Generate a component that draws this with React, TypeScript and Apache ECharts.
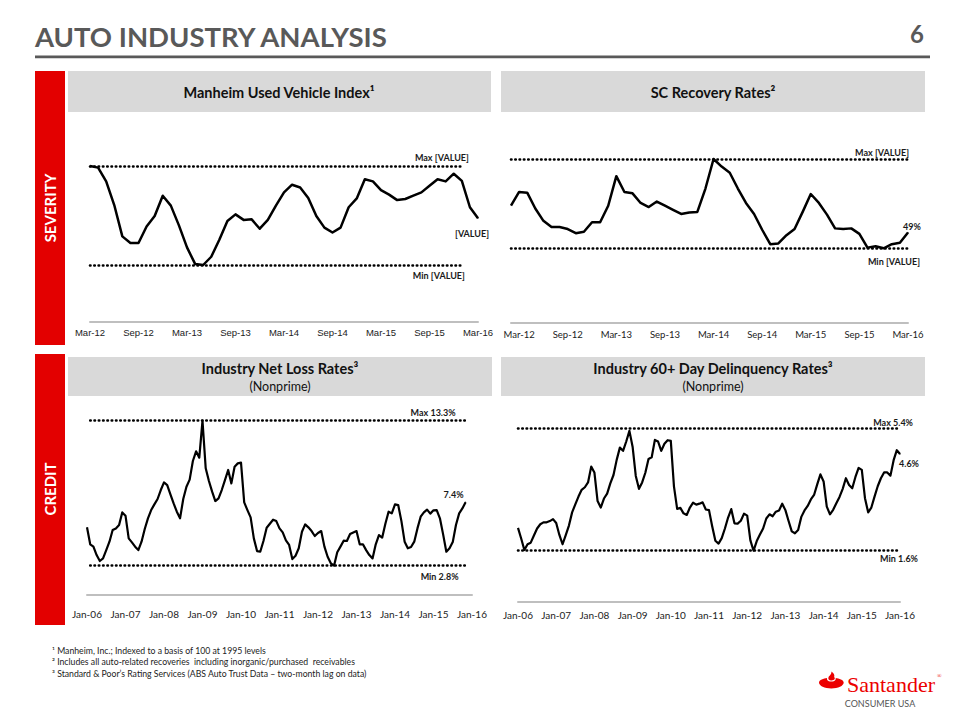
import React, { useEffect, useRef } from 'react';
import * as echarts from 'echarts';

// ---------- categories ----------
const MONTH_NAMES = ['Jan', 'Feb', 'Mar', 'Apr', 'May', 'Jun', 'Jul', 'Aug', 'Sep', 'Oct', 'Nov', 'Dec'];
function monthLabels(startYear: number, startMonth: number, count: number): string[] {
  const out: string[] = [];
  for (let i = 0; i < count; i++) {
    const t = startMonth + i;
    const y = startYear + Math.floor(t / 12);
    out.push(MONTH_NAMES[t % 12] + '-' + String(y % 100).padStart(2, '0'));
  }
  return out;
}
const manheimMonths = monthLabels(2012, 2, 49); // Mar-12 .. Mar-16
const recoveryMonths = monthLabels(2012, 1, 50); // Feb-12 .. Mar-16
const creditMonths = monthLabels(2006, 0, 121); // Jan-06 .. Jan-16

// ---------- tick labels ----------
const severityTicks = ['Mar-12', 'Sep-12', 'Mar-13', 'Sep-13', 'Mar-14', 'Sep-14', 'Mar-15', 'Sep-15', 'Mar-16'];
const creditTicks = ['Jan-06', 'Jan-07', 'Jan-08', 'Jan-09', 'Jan-10', 'Jan-11', 'Jan-12', 'Jan-13', 'Jan-14', 'Jan-15', 'Jan-16'];

// ---------- series values ----------
const manheimIndex = [
  125.0, 124.85, 123.6, 121.45, 118.6, 118.0, 118.0, 119.5, 120.45, 122.3,
  121.4, 119.6, 117.6, 116.1, 116.0, 116.75, 118.3, 120.0, 120.6, 120.1,
  120.15, 119.3, 120.1, 121.4, 122.6, 123.3, 123.05, 122.1, 120.45, 119.4,
  118.95, 119.4, 121.25, 122.05, 123.8, 123.6, 122.8, 122.4, 121.9, 122.0,
  122.3, 122.6, 123.2, 123.8, 123.6, 124.3, 123.65, 121.25, 120.25,
];
const scRecoveryRate = [
  53.2, 55.2, 55.1, 52.8, 51.0, 50.1, 50.1, 49.8, 49.2, 49.4,
  50.8, 50.8, 53.2, 57.5, 55.2, 55.0, 53.6, 53.0, 53.8, 53.2,
  52.6, 52.0, 52.2, 52.3, 55.7, 60.0, 58.9, 58.0, 55.7, 53.6,
  52.0, 49.7, 47.6, 47.7, 48.9, 49.8, 52.3, 54.9, 53.6, 51.9,
  49.9, 49.8, 49.9, 49.1, 47.1, 47.3, 47.0, 47.6, 47.8, 49.3,
];
const netLossRate = [
  5.58, 4.35, 4.18, 3.57, 3.14, 3.33, 3.93, 4.54, 5.38, 5.50,
  5.75, 6.66, 6.42, 4.78, 4.49, 4.18, 3.93, 4.54, 5.46, 6.23,
  6.83, 7.24, 7.63, 8.28, 8.83, 8.64, 7.97, 7.31, 6.71, 6.23,
  7.63, 8.52, 9.03, 10.38, 11.08, 10.62, 13.3, 9.85, 8.93, 8.16,
  7.48, 7.68, 8.28, 9.0, 9.73, 8.76, 9.97, 10.21, 10.26, 7.39,
  6.83, 6.3, 4.78, 3.86, 3.81, 4.59, 5.55, 5.84, 6.13, 6.03,
  5.50, 5.21, 4.63, 4.30, 3.28, 3.52, 4.06, 5.26, 5.79, 5.58,
  5.31, 4.95, 5.17, 5.31, 4.18, 3.45, 2.97, 2.8, 3.77, 4.18,
  4.61, 4.59, 5.09, 5.21, 5.31, 4.35, 4.35, 3.93, 3.57, 3.33,
  4.35, 5.02, 4.83, 5.84, 6.71, 6.59, 7.24, 7.19, 6.03, 4.54,
  4.06, 4.15, 4.54, 5.50, 6.35, 6.66, 6.86, 6.57, 6.81, 6.83,
  6.23, 5.07, 3.81, 4.06, 4.51, 5.75, 6.59, 6.95, 7.4,
];
const delinquencyRate = [
  2.31, 1.98, 1.62, 1.80, 1.85, 2.07, 2.29, 2.42, 2.48, 2.48,
  2.52, 2.58, 2.46, 2.09, 1.80, 2.08, 2.38, 2.79, 3.04, 3.28,
  3.49, 3.57, 3.72, 4.21, 4.03, 3.14, 2.94, 3.22, 3.37, 3.69,
  3.95, 4.42, 4.80, 4.70, 4.99, 5.32, 4.83, 3.92, 3.52, 3.72,
  4.02, 4.45, 4.50, 5.04, 4.99, 4.70, 4.92, 5.03, 5.01, 3.59,
  2.90, 2.93, 2.76, 2.71, 2.94, 3.09, 3.03, 3.06, 3.10, 2.88,
  2.86, 2.36, 1.91, 1.82, 1.99, 2.29, 2.63, 2.89, 2.45, 2.44,
  2.53, 2.75, 2.69, 1.92, 1.60, 1.90, 2.10, 2.29, 2.60, 2.73,
  2.67, 2.81, 2.85, 3.06, 2.86, 2.52, 2.20, 2.14, 2.24, 2.65,
  2.85, 2.99, 3.19, 3.33, 3.66, 3.97, 3.75, 2.97, 2.73, 2.87,
  3.07, 3.27, 3.52, 3.85, 3.64, 3.54, 3.89, 4.17, 4.11, 3.23,
  2.79, 2.94, 3.28, 3.60, 3.85, 4.03, 4.03, 3.93, 4.41, 4.72,
  4.6,
];

// reference levels (max, min) and their labels
const manheimLevels = [125.0, 116.0];
const recoveryLevels = [60.0, 47.0];
const netLossLevels = [13.3, 2.8];
const delinquencyLevels = [5.4, 1.6];
const manheimLevelLabels = ['Max [VALUE]', 'Min [VALUE]', '[VALUE]'];
const recoveryLevelLabels = ['Max [VALUE]', 'Min [VALUE]', '49%'];
const netLossLevelLabels = ['Max 13.3%', 'Min 2.8%', '7.4%'];
const delinquencyLevelLabels = ['Max 5.4%', 'Min 1.6%', '4.6%'];

// ---------- texts ----------
const pageTitle = 'AUTO INDUSTRY ANALYSIS';
const pageNumber = '6';
const panelTitles = ['Manheim Used Vehicle Index¹', 'SC Recovery Rates²', 'Industry Net Loss Rates³', 'Industry 60+ Day Delinquency Rates³'];
const panelSubtitle = '(Nonprime)';
const sideLabels = ['SEVERITY', 'CREDIT'];
const footnotes = [
  '¹ Manheim, Inc.; Indexed to a basis of 100 at 1995 levels',
  '² Includes all auto-related recoveries  including inorganic/purchased  receivables',
  '³ Standard & Poor’s Rating Services (ABS Auto Trust Data – two-month lag on data)',
];

const FLAME_PATH =
  'M0 13 C0 9.5 5 8 8.5 7.5 C8 9 8.8 11.6 13 11.8 C17.2 11.6 18 9 17.5 7.5 C21 8 26 9.5 26 13 C26 17 20 20 13 20 C6 20 0 17 0 13 Z ' +
  'M13 10.6 C10.2 10.6 9.4 8.6 10 6.8 C10.8 4.6 13.6 3.4 13 0 C15.6 1.6 16.6 4 16 6 C15.8 7 16.9 7.6 16.6 8.6 C16.1 10 14.8 10.6 13 10.6 Z';

let flameRegistered = false;
function ensureFlame() {
  if (flameRegistered) return;
  echarts.graphic.registerShape('santanderFlame', echarts.graphic.extendPath(FLAME_PATH, {}) as any);
  flameRegistered = true;
}

function yRange(vHi: number, yHi: number, vLo: number, yLo: number, top: number, bottom: number) {
  const k = (yLo - yHi) / (vHi - vLo);
  return { max: vHi + (yHi - top) / k, min: vLo - (bottom - yLo) / k };
}

type Panel = {
  cats: string[];
  ticks: string[];
  values: number[];
  levels: number[];
  labels: string[];
  left: number;
  width: number;
  top: number;
  bottom: number;
  hiY: number;
  loY: number;
  hiSpan: [number, number];
  loSpan: [number, number];
  hiDist: [number, number];
  loDist: [number, number];
  lastPos: string;
  lastDist: number;
  lastOffset: [number, number];
  axisFont: string;
  axisSize: number;
  axisMargin: number;
  lineWidth: number;
};

const annotFont = { fontFamily: 'Lato', fontWeight: 'bold' as const, fontSize: 9, color: '#1a1a1a' };

export default function App() {
  const ref = useRef<HTMLDivElement>(null);

  useEffect(() => {
    if (!ref.current) return;
    ensureFlame();
    const chart = echarts.init(ref.current, undefined, { renderer: 'svg' });

    const panels: Panel[] = [
      {
        cats: manheimMonths, ticks: severityTicks, values: manheimIndex, levels: manheimLevels, labels: manheimLevelLabels,
        left: 90, width: 388, top: 130, bottom: 322, hiY: 166, loY: 265,
        hiSpan: [0, 46], loSpan: [0, 46], hiDist: [-7, 4], loDist: [-3, 6],
        lastPos: 'bottom', lastDist: 10, lastOffset: [-6, 0],
        axisFont: 'Liberation Sans', axisSize: 9.5, axisMargin: 5, lineWidth: 2.5,
      },
      {
        cats: recoveryMonths, ticks: severityTicks, values: scRecoveryRate, levels: recoveryLevels, labels: recoveryLevelLabels,
        left: 511, width: 397, top: 130, bottom: 322.7, hiY: 159, loY: 248.3,
        hiSpan: [0, 49], loSpan: [0, 49], hiDist: [-1, 2], loDist: [-12, 9],
        lastPos: 'top', lastDist: 1, lastOffset: [4, 0],
        axisFont: 'Lato', axisSize: 9.5, axisMargin: 7, lineWidth: 2.5,
      },
      {
        cats: creditMonths, ticks: creditTicks, values: netLossRate, levels: netLossLevels, labels: netLossLevelLabels,
        left: 87, width: 385, top: 395, bottom: 594.3, hiY: 420.7, loY: 565.7,
        hiSpan: [1, 118], loSpan: [1, 118], hiDist: [10, 4], loDist: [7, 6],
        lastPos: 'top', lastDist: 3, lastOffset: [-12, 0],
        axisFont: 'Lato', axisSize: 10, axisMargin: 15, lineWidth: 2.2,
      },
      {
        cats: creditMonths, ticks: creditTicks, values: delinquencyRate, levels: delinquencyLevels, labels: delinquencyLevelLabels,
        left: 518, width: 382, top: 395, bottom: 601.7, hiY: 428.3, loY: 550.7,
        hiSpan: [0, 120], loSpan: [0, 120], hiDist: [-13, 1.5], loDist: [-18, 3],
        lastPos: 'bottom', lastDist: 4, lastOffset: [9, 0],
        axisFont: 'Lato', axisSize: 10, axisMargin: 8, lineWidth: 2.2,
      },
    ];

    const grids: any[] = [];
    const xAxes: any[] = [];
    const yAxes: any[] = [];
    const series: any[] = [];

    panels.forEach((p, i) => {
      grids.push({ left: p.left, top: p.top, width: p.width, height: p.bottom - p.top });
      xAxes.push({
        gridIndex: i,
        type: 'category',
        data: p.cats,
        boundaryGap: false,
        axisLine: { show: true, lineStyle: { color: '#bfbfbf', width: 2 } },
        axisTick: { show: false },
        splitLine: { show: false },
        axisLabel: {
          interval: (_idx: number, val: string) => p.ticks.includes(val),
          color: '#222',
          fontFamily: p.axisFont,
          fontSize: p.axisSize,
          margin: p.axisMargin,
          hideOverlap: false,
        },
      });
      const r = yRange(p.levels[0], p.hiY, p.levels[1], p.loY, p.top, p.bottom);
      yAxes.push({ gridIndex: i, type: 'value', min: r.min, max: r.max, show: false, splitLine: { show: false } });

      const last = p.values.length - 1;
      series.push({
        type: 'line',
        xAxisIndex: i,
        yAxisIndex: i,
        symbol: 'none',
        showSymbol: true,
        showAllSymbol: true,
        lineStyle: { color: '#000', width: p.lineWidth, join: 'round' },
        data: p.values.map((v, j) =>
          j === last
            ? {
                value: v,
                symbol: 'circle',
                symbolSize: 1,
                itemStyle: { color: '#000' },
                label: {
                  show: true,
                  formatter: p.labels[2],
                  position: p.lastPos,
                  distance: p.lastDist,
                  offset: p.lastOffset,
                  ...annotFont,
                },
              }
            : v
        ),
        markLine: {
          symbol: 'none',
          silent: true,
          animation: false,
          lineStyle: { color: '#000', width: 2.6, type: [0.5, 3.8], cap: 'round' },
          data: [
            [
              {
                coord: [p.cats[p.hiSpan[0]], p.levels[0]],
                label: { show: true, position: 'insideEndTop', formatter: p.labels[0], distance: p.hiDist, ...annotFont },
              },
              { coord: [p.cats[p.hiSpan[1]], p.levels[0]] },
            ],
            [
              {
                coord: [p.cats[p.loSpan[0]], p.levels[1]],
                label: { show: true, position: 'insideEndBottom', formatter: p.labels[1], distance: p.loDist, ...annotFont },
              },
              { coord: [p.cats[p.loSpan[1]], p.levels[1]] },
            ],
          ],
        },
      });
    });

    const headerText = (text: string, x: number, y: number, size: number, bold: boolean) => ({
      type: 'text',
      x,
      y,
      style: {
        text,
        fontFamily: 'Lato',
        fontSize: size,
        fontWeight: bold ? 'bold' : 'normal',
        fill: '#111',
        align: 'center',
        verticalAlign: 'middle',
      },
    });

    const graphic: any[] = [
      // title
      {
        type: 'text', x: 35, y: 36,
        style: { text: pageTitle, fontFamily: 'Lato', fontSize: 27.5, fontWeight: 'bold', fill: '#595959', align: 'left', verticalAlign: 'middle' },
      },
      {
        type: 'text', x: 924, y: 33,
        style: { text: pageNumber, fontFamily: 'Lato', fontSize: 24, fontWeight: 'bold', fill: '#595959', align: 'right', verticalAlign: 'middle' },
      },
      { type: 'rect', shape: { x: 35, y: 55.5, width: 895, height: 2.8 }, style: { fill: '#595959' } },
      // side bars
      { type: 'rect', shape: { x: 35, y: 71, width: 30, height: 274 }, style: { fill: '#E30000' } },
      { type: 'rect', shape: { x: 35, y: 354, width: 30, height: 271 }, style: { fill: '#E30000' } },
      {
        type: 'text', x: 50, y: 208, rotation: Math.PI / 2,
        style: { text: sideLabels[0], fontFamily: 'Lato', fontSize: 15, fontWeight: 'bold', fill: '#fff', align: 'center', verticalAlign: 'middle' },
      },
      {
        type: 'text', x: 50, y: 489, rotation: Math.PI / 2,
        style: { text: sideLabels[1], fontFamily: 'Lato', fontSize: 15, fontWeight: 'bold', fill: '#fff', align: 'center', verticalAlign: 'middle' },
      },
      // header boxes
      { type: 'rect', shape: { x: 68, y: 71, width: 423, height: 41 }, style: { fill: '#D9D9D9' } },
      { type: 'rect', shape: { x: 501, y: 71, width: 424, height: 41 }, style: { fill: '#D9D9D9' } },
      { type: 'rect', shape: { x: 68, y: 357, width: 424, height: 39 }, style: { fill: '#D9D9D9' } },
      { type: 'rect', shape: { x: 501, y: 357, width: 424, height: 39 }, style: { fill: '#D9D9D9' } },
      headerText(panelTitles[0], 279, 92, 14.5, true),
      headerText(panelTitles[1], 713, 92, 14.5, true),
      headerText(panelTitles[2], 280, 368, 14.5, true),
      headerText(panelSubtitle, 280, 386, 12.5, false),
      headerText(panelTitles[3], 713, 368, 14.5, true),
      headerText(panelSubtitle, 713, 386, 12.5, false),
      // footnotes
      ...footnotes.map((t, k) => ({
        type: 'text', x: 52, y: 650 + k * 11.5,
        style: { text: t, fontFamily: 'Lato', fontSize: 8.7, fill: '#222', align: 'left', verticalAlign: 'middle' },
      })),
      // logo
      { type: 'santanderFlame', x: 819, y: 671.5, scaleX: 0.95, scaleY: 0.85, style: { fill: '#EC0000' } },
      {
        type: 'text', x: 847, y: 684,
        style: { text: 'Santander', fontFamily: 'Liberation Serif', fontSize: 22, fill: '#EC0000', align: 'left', verticalAlign: 'middle' },
      },
      {
        type: 'text', x: 937, y: 676,
        style: { text: '®', fontFamily: 'Liberation Serif', fontSize: 6, fill: '#EC0000', align: 'left', verticalAlign: 'middle' },
      },
      {
        type: 'text', x: 880, y: 703,
        style: { text: 'CONSUMER USA', fontFamily: 'Lato', fontSize: 9, fill: '#555', align: 'center', verticalAlign: 'middle' },
      },
    ];

    chart.setOption({
      animation: false,
      backgroundColor: '#ffffff',
      textStyle: { fontFamily: 'Lato' },
      grid: grids,
      xAxis: xAxes,
      yAxis: yAxes,
      series,
      graphic,
    });

    return () => {
      chart.dispose();
    };
  }, []);

  return (
    <div
      ref={ref}
      style={{ position: 'absolute', left: 0, top: 0, width: 960, height: 720, background: '#fff' }}
    />
  );
}
